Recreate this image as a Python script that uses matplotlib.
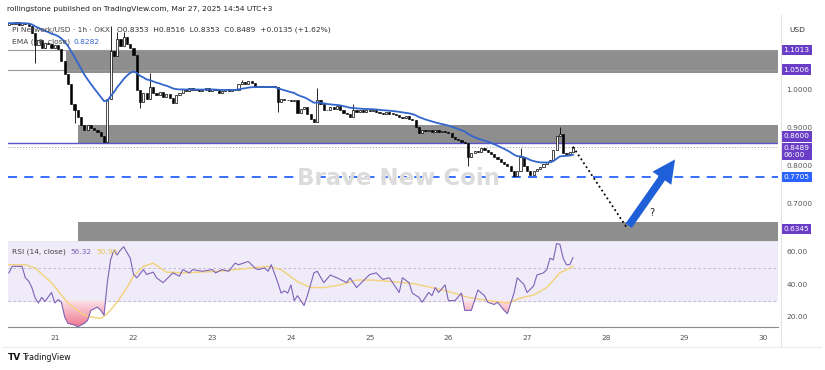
import numpy as np
import pandas as pd
import matplotlib
matplotlib.use("Agg")
import matplotlib.pyplot as plt
import matplotlib.transforms as mtransforms
from matplotlib.patches import Rectangle, FancyArrowPatch
from matplotlib.path import Path
from matplotlib.colors import LinearSegmentedColormap
from matplotlib.lines import Line2D

# ---- data (PI/USD, 1h, OKX) ----
closes = [
    1.172, 1.170, 1.174, 1.168, 1.173, 1.170, 1.165, 1.146,
    1.115, 1.128, 1.108, 1.120,
    1.118, 1.106, 1.114, 1.104,
    1.072, 1.040, 1.012, 0.962,
    0.944, 0.926, 0.905,
    0.893, 0.905, 0.898, 0.893, 0.887, 0.876, 0.861,
    0.975, 1.100,
    1.085, 1.130, 1.112, 1.135, 1.118, 1.108, 1.088,
    0.998, 0.965, 0.990, 0.975, 1.005, 0.990,
    0.985, 0.992, 0.980, 0.986, 0.976, 0.963, 0.984, 0.990,
    1.000, 0.995, 1.002, 0.997, 1.001, 0.994, 0.998, 1.003, 0.996, 1.000, 0.997,
    0.990, 0.996,
    0.999, 0.994, 1.000, 0.997,
    1.012, 1.018, 1.013, 1.020, 1.015,
    1.006, 1.008, 1.004, 1.007, 1.005, 1.008, 1.006,
    0.966, 0.975, 0.970, 0.972, 0.968, 0.972,
    0.937, 0.948, 0.952,
    0.935, 0.922, 0.914,
    0.970, 0.962,
    0.946, 0.944, 0.952, 0.948, 0.955,
    0.945, 0.938, 0.934,
    0.928, 0.945, 0.940,
    0.944, 0.940, 0.945, 0.942, 0.946, 0.941,
    0.938, 0.934, 0.940, 0.936, 0.935,
    0.932, 0.928, 0.925, 0.930, 0.922, 0.918,
    0.900, 0.885, 0.892,
    0.890, 0.893, 0.888, 0.892, 0.889, 0.891, 0.887, 0.884,
    0.875, 0.870, 0.866, 0.862, 0.858,
    0.822,
    0.832, 0.838, 0.835,
    0.846, 0.840,
    0.835, 0.830, 0.822, 0.816, 0.810,
    0.803, 0.798, 0.786, 0.774, 0.785,
    0.822,
    0.800, 0.787, 0.776,
    0.786, 0.790, 0.796,
    0.805, 0.809, 0.815,
    0.840, 0.876, 0.882, 0.834,
    0.829, 0.8353,
    0.8489,
]
first_open = 1.168
wick_highs = {31: 1.165, 33: 1.150, 35: 1.148, 43: 1.042, 71: 1.023,
              94: 1.003, 105: 0.962, 156: 0.846, 168: 0.900, 172: 0.8516}
wick_lows = {8: 1.068, 20: 0.912, 40: 0.950, 82: 0.940, 140: 0.800}
last_bar_day = 27 + 14 / 24  # Mar 27 14:00

rsi_bar = [0, 1, 4, 5, 6, 7, 8, 9, 10, 11, 13, 14, 15, 16, 17, 18, 20, 21, 23, 24,
           25, 27, 28, 29, 30, 31, 32, 33, 34, 35, 37, 38, 39, 41, 42, 44, 45, 47, 49, 50,
           52, 53, 55, 56, 59, 62, 63, 65, 67, 69, 70, 73, 75, 76, 78, 79, 80, 82, 83, 84,
           85, 86, 87, 88, 90, 91, 93, 94, 96, 98, 100, 101, 103, 104, 106, 108, 110, 112, 114, 116,
           118, 119, 120, 122, 123, 125, 126, 128, 129, 130, 131, 133, 134, 136, 138, 139, 141, 143, 145, 146,
           148, 149, 151, 152, 154, 155, 157, 158, 160, 161, 163, 164, 165, 166, 167, 168, 169, 170, 171, 172]
rsi_val = [47, 51, 51, 44, 42, 38, 31.6, 28.5, 32, 29.5, 35, 28.5, 30.6, 29, 20, 16, 15, 14, 16, 18,
           24, 26, 24, 21, 41, 55, 61, 58, 61, 63, 56, 46, 44, 49, 46, 47.5, 44, 41, 45, 47,
           45, 49, 47, 49, 48, 49, 47, 49, 48, 53, 52, 54, 50, 49, 50, 48, 52, 41, 34.6, 36,
           34.6, 39.6, 30, 33, 27, 33, 47, 48, 41, 45.7, 44, 43, 41, 44, 38, 42, 46, 47, 43, 44,
           38, 35, 44, 41, 34.6, 32, 29, 35, 33, 38, 35, 39.6, 30, 30, 34.6, 24, 24, 36.5, 33, 29,
           27.6, 29, 24, 22, 34.6, 44, 40, 35, 39, 45.7, 47, 49, 56, 55, 65, 64.5, 56, 52, 52, 56.3]
rsi_ma_bar = [0, 5, 8, 13, 18, 23, 25, 28, 30, 33, 36, 38, 41, 44, 48, 53, 64, 74, 79, 83,
              88, 92, 96, 101, 106, 111, 117, 123, 129, 134, 140, 146, 152, 156, 160, 164, 168, 172]
rsi_ma_val = [52, 52, 50, 41, 28.5, 21, 20, 19, 22, 29, 38, 45, 51, 53, 47.5, 47, 48, 50, 51, 49,
              41.6, 38, 38, 39.6, 42.6, 42.6, 41.6, 40.5, 38, 35.6, 32, 30, 28.5, 31.6, 33.4, 38, 47, 50.96]

day_ticks = list(range(21, 31))
price_ticks = [1.0, 0.9, 0.8, 0.7]
rsi_ticks = [60, 40, 20]

# drawn supply / demand zones: (start day, low, high)
zones = [(21.14, 1.042, 1.1013), (21.29, 0.8600, 0.905), (21.29, 0.560, 0.652)]
support_level = 0.7705
key_level = 0.8600
last_price = 0.8489
box_levels = [1.1013, 1.0506, 0.8600, 0.6345]
# projected path: dip to the demand zone, then bounce
dip_day, dip_price = 28.27, 0.637
bounce_day, bounce_price = 28.90, 0.822

PURPLE = "#6a3dc6"
BLUE = "#2962ff"

fig = plt.figure(figsize=(8.25, 3.7), dpi=100)
W, H = 825, 370
ax = fig.add_axes([8 / W, 1 - 241 / H, 770 / W, 226 / H])
rx = fig.add_axes([8 / W, 1 - 327 / H, 770 / W, 86 / H], sharex=ax)

n = len(closes)
c = np.array(closes)
o = np.array([first_open] + closes[:-1])
t = last_bar_day - (n - 1 - np.arange(n)) / 24
hi = np.array([wick_highs.get(i, max(o[i], c[i])) for i in range(n)])
lo = np.array([wick_lows.get(i, min(o[i], c[i])) for i in range(n)])

# zones and levels
for start, low, high in zones:
    ax.add_patch(Rectangle((start, low), 40, high - low, facecolor="#8e8e8e",
                           edgecolor="none", zorder=1))
for lv in (1.1013, 1.0506):
    ax.axhline(lv, color="#9a9a9a", lw=0.8, zorder=1.5)
ax.axhline(key_level, color="#5b55c9", lw=1.0, zorder=1.6)
ax.axhline(last_price, color="#9a9a9a", lw=0.7, ls=(0, (1, 2)), zorder=1.5)
ax.axhline(support_level, color=BLUE, lw=1.3, ls=(0, (5, 4)), zorder=2)

# watermark
fig.text(398 / W, 1 - 179 / H, "Brave New Coin", fontsize=16.5, fontweight="bold",
         color="#dcdcdc", ha="center", va="center", zorder=0.5)

# candles
body_w = 0.66 / 24
up = c >= o
ax.vlines(t, lo, hi, color="black", lw=0.6, zorder=3)
bottoms = np.minimum(o, c)
heights = np.maximum(np.abs(c - o), 0.0015)
ax.bar(t[up], heights[up], bottom=bottoms[up], width=body_w, facecolor="white",
       edgecolor="black", lw=0.5, zorder=4)
ax.bar(t[~up], heights[~up], bottom=bottoms[~up], width=body_w, facecolor="black",
       edgecolor="black", lw=0.4, zorder=4)

ema = pd.Series(closes).ewm(span=20, adjust=False).mean()
ax.plot(t, ema, color="#3366cc", lw=1.3, zorder=5)

# projection
ax.plot([t[-1], dip_day], [c[-1], dip_price], color="black", lw=1.3,
        ls=(0, (1, 1.6)), zorder=5)
ax.add_patch(FancyArrowPatch((dip_day, dip_price), (bounce_day, bounce_price),
                             arrowstyle="simple,head_length=1.5,head_width=1.5,tail_width=0.5",
                             mutation_scale=11, color="#1f5fd8", lw=0, zorder=6))
ax.text(28.59, 0.676, "?", fontsize=7, color="#222", ha="center", va="center")

ax.set_xlim(20.405, 21 + 724 / 78.8)
ax.set_ylim(1 - 152 / 383, 1 + 74 / 383)
for s in ax.spines.values():
    s.set_visible(False)
ax.tick_params(axis="x", bottom=False, labelbottom=False)
ax.yaxis.tick_right()
ax.set_yticks(price_ticks)
ax.set_yticklabels([f"{v:.4f}" for v in price_ticks])
ax.tick_params(axis="y", length=0, labelsize=5.3, labelcolor="#555", pad=6)

tr = mtransforms.blended_transform_factory(ax.transAxes, ax.transData)
box_kw = dict(boxstyle="square,pad=0.3", ec="none")
for lv in box_levels:
    dy = 4.5 if lv == key_level else 0
    ax.annotate(f"{lv:.4f}", (1.007, lv), xycoords=tr, xytext=(0, dy), textcoords="offset points",
                fontsize=5.3, color="white", va="center", ha="left",
                bbox=dict(fc=PURPLE, **box_kw), annotation_clip=False, zorder=10)
ax.annotate(f"{last_price:.4f}\n06:00", (1.007, last_price), xycoords=tr, xytext=(0, -3.3),
            textcoords="offset points", fontsize=5.3, color="white", va="center", ha="left",
            linespacing=1.25, bbox=dict(fc=PURPLE, **box_kw), annotation_clip=False, zorder=10)
ax.annotate(f"{support_level:.4f}", (1.007, support_level), xycoords=tr, fontsize=5.3,
            color="white", va="center", ha="left", bbox=dict(fc=BLUE, **box_kw),
            annotation_clip=False, zorder=10)

# RSI pane
rb = last_bar_day - (n - 1 - np.array(rsi_bar)) / 24
rv = np.array(rsi_val)
mb = last_bar_day - (n - 1 - np.array(rsi_ma_bar)) / 24
rx.axhspan(30, 70, color="#efebf8", zorder=0)
for lv in (30, 50, 70):
    rx.axhline(lv, color="#b8b2cc", lw=0.6, ls=(0, (3, 3)), zorder=1)

# oversold fill, pink fading towards the 30 line
poly = rx.fill_between(rb, rv, 30, where=rv < 30, interpolate=True, facecolor="none",
                       edgecolor="none")
grad = np.linspace(0, 1, 100).reshape(-1, 1)
cmap = LinearSegmentedColormap.from_list("rsi_os", ["#fbe3e8", "#f5a6b6", "#ef6b86"])
im = rx.imshow(grad, extent=[rb[0], rb[-1], 12, 30], aspect="auto", cmap=cmap,
               origin="upper", zorder=1.5)
clip = Path.make_compound_path(*poly.get_paths())
im.set_clip_path(clip, rx.transData)

rx.plot(mb, rsi_ma_val, color="#f3d27a", lw=1.0, zorder=2)
rx.plot(rb, rv, color="#7e62b8", lw=0.8, zorder=3)

rx.set_xlim(20.405, 21 + 724 / 78.8)
rx.set_ylim(50 - 59 / 1.63, 50 + 27 / 1.63)
for k, s in rx.spines.items():
    s.set_visible(k == "bottom")
rx.spines["bottom"].set_color("#8a8a8a")
rx.spines["bottom"].set_linewidth(0.8)
rx.yaxis.tick_right()
rx.set_yticks(rsi_ticks)
rx.set_yticklabels([f"{v:.2f}" for v in rsi_ticks])
rx.tick_params(axis="y", length=0, labelsize=5.3, labelcolor="#555", pad=6)
rx.set_xticks(day_ticks)
rx.set_xticklabels([str(d) for d in day_ticks])
rx.tick_params(axis="x", length=0, labelsize=5.3, labelcolor="#555", pad=6)

# frame lines
fig.add_artist(Line2D([781 / W, 781 / W], [1 - 15 / H, 1 - 347 / H], color="#e3e3e3", lw=0.8))
fig.add_artist(Line2D([3 / W, 821 / W], [1 - 347 / H, 1 - 347 / H], color="#ececec", lw=0.8))
fig.add_artist(Line2D([8 / W, 778 / W], [1 - 241 / H, 1 - 241 / H], color="#e6e6e6", lw=0.6))

# header / legends
fig.text(7 / W, 1 - 9 / H, "rollingstone published on TradingView.com, Mar 27, 2025 14:54 UTC+3",
         fontsize=5.4, color="#222", va="center")
fig.text(12 / W, 1 - 30 / H, "Pi Network/USD · 1h · OKX", fontsize=5.4, color="#444", va="center")
fig.text(117 / W, 1 - 30 / H, "O0.8353  H0.8516  L0.8353  C0.8489  +0.0135 (+1.62%)",
         fontsize=5.4, color="#333", va="center")
fig.text(12 / W, 1 - 42 / H, "EMA (20, close)", fontsize=5.4, color="#444", va="center")
fig.text(73 / W, 1 - 42 / H, "0.8282", fontsize=5.4, color="#3366cc", va="center")
fig.text(12 / W, 1 - 252 / H, "RSI (14, close)", fontsize=5.4, color="#444", va="center")
fig.text(70 / W, 1 - 252 / H, "56.32", fontsize=5.4, color="#7e62b8", va="center")
fig.text(96 / W, 1 - 252 / H, "50.96", fontsize=5.4, color="#e8c55a", va="center")
fig.text(797 / W, 1 - 30 / H, "USD", fontsize=5.4, color="#333", va="center", ha="center")

fig.text(8 / W, 1 - 357 / H, "TV", fontsize=6.5, fontweight="heavy", color="#111", va="center")
fig.text(22 / W, 1 - 357 / H, "TradingView", fontsize=5.8, color="#111", va="center")

fig.savefig("out.png", dpi=100, facecolor="white")
